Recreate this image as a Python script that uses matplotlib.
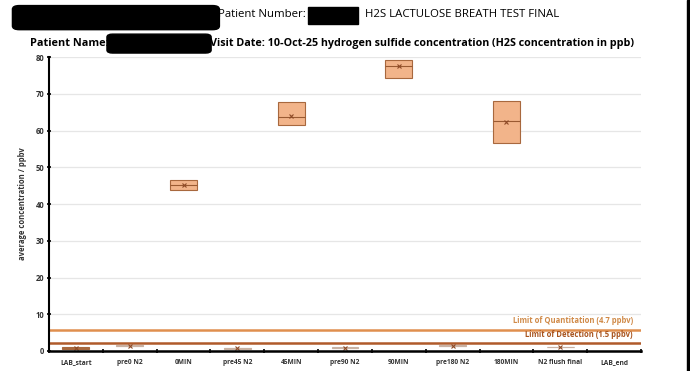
import matplotlib.pyplot as plt
import matplotlib.patches as mpatches
import numpy as np

plt.rcParams['font.family'] = ['Open Sans', 'DejaVu Sans']

cats = ['LAB_start', 'pre0 N2', '0MIN', 'pre45 N2', '45MIN', 'pre90 N2',
        '90MIN', 'pre180 N2', '180MIN', 'N2 flush final', 'LAB_end']
q1 = [0.5, 1.3, 43.8, 0.6, 61.6, 0.85, 74.3, 1.3, 56.6, 0.95, None]
med = [0.8, 1.4, 45.3, 0.7, 63.7, 0.9, 77.7, 1.4, 62.6, 1.0, None]
q3 = [1.2, 1.5, 46.5, 0.8, 67.8, 0.95, 79.3, 1.5, 68.0, 1.05, None]
means = [0.8, 1.4, 45.2, 0.7, 64.1, 0.9, 77.5, 1.4, 62.3, 1.0, None]

loq_y, lod_y = 5.8, 2.1
loq_label = 'Limit of Quantitation (4.7 ppbv)'
lod_label = 'Limit of Detection (1.5 ppbv)'

fig = plt.figure(figsize=(6.9, 3.71), dpi=100)
ax = fig.add_axes([0.071, 0.054, 0.858, 0.792])

fill = '#F2B48A'
edge = '#A8683E'
faint = '#C9B2A4'

for i, c in enumerate(cats):
    if q1[i] is None:
        continue
    big = q3[i] - q1[i] > 2
    fc = fill if big else ('#C89874' if i == 0 else 'none')
    ec = edge if big else ('#A8683E' if i == 0 else faint)
    stats = [dict(q1=q1[i], med=med[i], q3=q3[i], mean=means[i],
                  whislo=q1[i], whishi=q3[i], fliers=[])]
    ax.bxp(stats, positions=[i], widths=0.5, patch_artist=True,
           showmeans=True, showcaps=False,
           boxprops=dict(facecolor=fc, edgecolor=ec, linewidth=0.8),
           medianprops=dict(color=ec if not big else '#9A5A32', linewidth=0.8),
           whiskerprops=dict(color=ec, linewidth=0.5),
           meanprops=dict(marker='x', markeredgecolor='#8E4A26', markersize=3.5,
                          markeredgewidth=0.8))

ax.axhline(loq_y, color='#E08F4E', linewidth=1.8, zorder=1)
ax.axhline(lod_y, color='#B05A2A', linewidth=1.8, zorder=1)
ax.text(10.35, loq_y + 1.2, loq_label, ha='right', va='bottom', fontsize=5.5,
        fontweight='bold', color='#D08A48')
ax.text(10.35, lod_y + 1.2, lod_label, ha='right', va='bottom', fontsize=5.5,
        fontweight='bold', color='#A8541E')

ax.set_xlim(-0.5, len(cats) - 0.5)
ax.set_ylim(0, 80)
ax.set_yticks(np.arange(0, 81, 10))
ax.set_xticks(np.arange(len(cats)))
ax.set_xticklabels(cats, fontsize=4.8)
ax.set_xticks(np.arange(len(cats) + 1) - 0.5, minor=True)
ax.tick_params(axis='x', which='major', length=0, pad=6)
ax.tick_params(axis='x', which='minor', length=3, width=1.2, direction='inout', color='black')
ax.tick_params(axis='y', length=3, width=1.2, direction='inout', labelsize=5.5, pad=2)
for lab in ax.get_yticklabels():
    lab.set_fontweight('bold')
    lab.set_color('#333333')
for lab in ax.get_xticklabels():
    lab.set_fontweight('bold')
    lab.set_color('#333333')
ax.grid(axis='y', color='#E6E6E6', linewidth=0.9)
ax.set_axisbelow(True)
for s in ['top', 'right']:
    ax.spines[s].set_visible(False)
ax.spines['left'].set_linewidth(1.5)
ax.spines['bottom'].set_linewidth(1.8)
ax.set_ylabel('average concentration / ppbv', fontsize=5.5, fontweight='bold', color='#333333',
              labelpad=6)

# header rows (personal details blacked out as in the reference)
fig.text(0.316, 0.96, 'Patient Number:', fontsize=8.2, va='center', ha='left')
fig.text(0.529, 0.96, 'H2S LACTULOSE BREATH TEST FINAL', fontsize=8.2, va='center', ha='left')
fig.text(0.043, 0.884, 'Patient Name:', fontsize=7.8, fontweight='bold', va='center', ha='left')
fig.text(0.304, 0.884, 'Visit Date: 10-Oct-25 hydrogen sulfide concentration (H2S concentration in ppb)',
         fontsize=7.75, fontweight='bold', va='center', ha='left')
fig.patches.append(mpatches.FancyBboxPatch((0.028, 0.93), 0.28, 0.045, boxstyle='round,pad=0.01',
                                           transform=fig.transFigure, color='black'))
fig.patches.append(mpatches.Rectangle((0.446, 0.935), 0.073, 0.045, transform=fig.transFigure,
                                      color='black'))
fig.patches.append(mpatches.FancyBboxPatch((0.163, 0.865), 0.135, 0.035, boxstyle='round,pad=0.008',
                                           transform=fig.transFigure, color='black'))
fig.patches.append(mpatches.Rectangle((0.995, 0.0), 0.005, 1.0, transform=fig.transFigure,
                                      color='black'))

fig.savefig('out.png', dpi=100)
